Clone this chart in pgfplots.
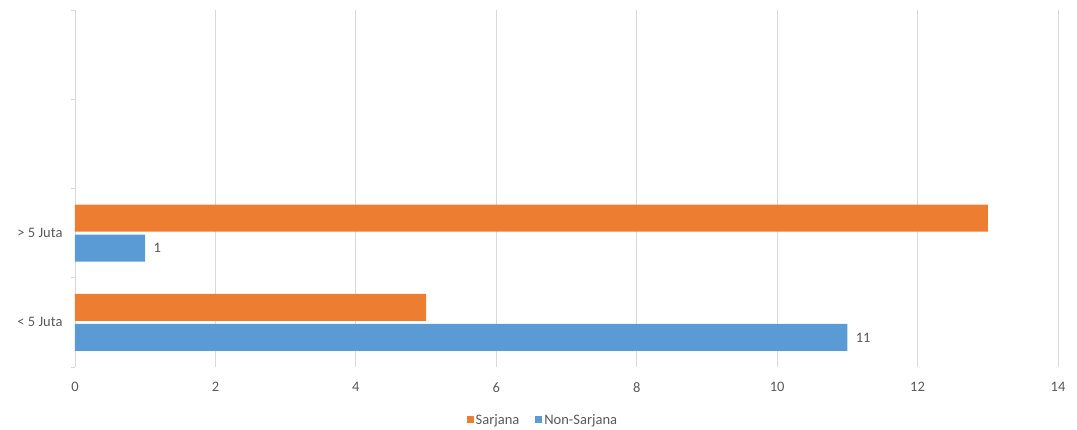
\documentclass[border=0pt]{standalone}
\usepackage{pgfplots}
\pgfplotsset{compat=1.18}
\usepackage{fontspec}
\setmainfont{Carlito}
\definecolor{sarj}{HTML}{ED7D31}
\definecolor{nons}{HTML}{5B9BD5}
\definecolor{txt}{HTML}{595959}
\definecolor{gridc}{HTML}{D9D9D9}
\begin{document}
\begin{tikzpicture}[x=1pt,y=1pt]
\useasboundingbox (0,0) rectangle (1077,430);
\begin{axis}[
  at={(75pt,63pt)}, anchor=south west,
  scale only axis, width=983pt, height=357pt,
  xbar, bar width=27pt,
  xmin=0, xmax=14, xtick={0,2,...,14},
  ymin=0.5, ymax=4.5,
  ytick={1,2}, yticklabels={< 5 Juta,> 5 Juta},
  minor ytick={0.5,1.5,2.5,3.5,4.5},
  major tick length=0pt,
  minor tick length=4pt,
  tick align=outside,
  tick style={draw=gridc, line width=0.8pt},
  xmajorgrids, major grid style={draw=gridc, line width=0.8pt},
  axis x line*=bottom,
  axis y line*=left,
  x axis line style={draw=none},
  y axis line style={draw=gridc, line width=0.8pt, -},
  xticklabel style={text=txt, font=\fontsize{14.5}{16}\selectfont, yshift=-12pt},
  yticklabel style={text=txt, font=\fontsize{14.5}{16}\selectfont, xshift=-9pt},
  /pgf/number format/assume math mode=true,
  legend style={at={(0.476,-0.148)}, anchor=center, draw=none, fill=none,
    legend columns=2, font=\fontsize{14.5}{16}\selectfont, text=txt,
    /tikz/every even column/.append style={column sep=14pt}},
  legend image code/.code={\fill[#1,draw=none] (0pt,-3.5pt) rectangle (7pt,3.5pt);},
  clip=false,
]
\addplot+[draw=none, fill=sarj, bar shift=15pt] coordinates {(5,1) (13,2)};
\addlegendentry{Sarjana}
\addplot+[draw=none, fill=nons, bar shift=-15pt,
  nodes near coords, every node near coord/.append style={text=txt, font=\fontsize{14.5}{16}\selectfont, xshift=5pt}] coordinates {(11,1) (1,2)};
\addlegendentry{Non-Sarjana}
\end{axis}
\end{tikzpicture}
\end{document}
